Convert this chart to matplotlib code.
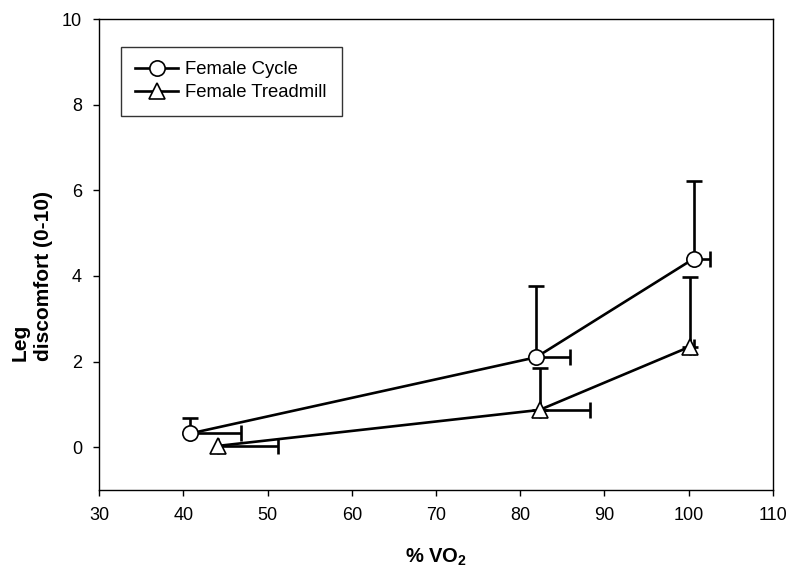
import matplotlib
matplotlib.use("Agg")
import matplotlib.pyplot as plt
from matplotlib.lines import Line2D

plt.rcParams['font.family'] = ['Liberation Sans', 'DejaVu Sans']
plt.rcParams['mathtext.fontset'] = 'custom'
plt.rcParams['mathtext.rm'] = 'Liberation Sans'
plt.rcParams['mathtext.bf'] = 'Liberation Sans:bold'

# Data
cycle_x = [40.8, 81.9, 100.6]
cycle_y = [0.32, 2.10, 4.40]
cycle_yerr_up = [0.37, 1.67, 1.82]
cycle_xerr_right = [6.0, 4.0, 2.0]

tread_x = [44.1, 82.3, 100.2]
tread_y = [0.03, 0.87, 2.35]
tread_yerr_up = [0.0, 0.97, 1.63]
tread_xerr_right = [7.1, 6.0, 0.4]

labels = ['Female Cycle', 'Female Treadmill']
xticks = [30, 40, 50, 60, 70, 80, 90, 100, 110]
yticks = [0, 2, 4, 6, 8, 10]

fig = plt.figure(figsize=(7.9, 5.73), dpi=100)
ax = fig.add_axes([99.3/790, 83/573, (772.7-99.3)/790, (490-19)/573])

lw = 1.9
cap = 6

def draw(x, y, yerr, xerr, marker, ms, label):
    for xi, yi, ye, xe in zip(x, y, yerr, xerr):
        if ye > 0:
            ax.errorbar([xi], [yi], yerr=[[0], [ye]], fmt='none', ecolor='black',
                        elinewidth=lw, capsize=cap, capthick=lw, zorder=2)
        if xe > 0:
            ax.errorbar([xi], [yi], xerr=[[0], [xe]], fmt='none', ecolor='black',
                        elinewidth=lw, capsize=cap, capthick=lw, zorder=2)
    ax.plot(x, y, color='black', lw=lw, marker=marker, ms=ms,
            mfc='white', mec='black', mew=1.2, zorder=3, label=label)

draw(cycle_x, cycle_y, cycle_yerr_up, cycle_xerr_right, 'o', 11, labels[0])
draw(tread_x, tread_y, tread_yerr_up, tread_xerr_right, '^', 12, labels[1])

ax.set_xlim(30, 110)
ax.set_ylim(-1, 10)
ax.set_xticks(xticks)
ax.set_yticks(yticks)
ax.tick_params(direction='out', length=4.5, width=1, labelsize=13, colors='black', pad=8)
for s in ax.spines.values():
    s.set_linewidth(1.0)

handles = [
    Line2D([], [], color='black', lw=lw, marker='o', ms=11, mfc='white', mec='black', mew=1.2),
    Line2D([], [], color='black', lw=lw, marker='^', ms=12, mfc='white', mec='black', mew=1.2),
]
leg = ax.legend(handles, labels, loc='upper left', bbox_to_anchor=((120.7-99.3)/673.4, (490-46.7)/471),
                fontsize=13.3, frameon=True, fancybox=False, edgecolor='black',
                handlelength=2.3, handletextpad=0.4, borderpad=0.8, labelspacing=0.3,
                borderaxespad=0)
leg.get_frame().set_linewidth(1.0)

fig.text(436/790, 1 - 557/573, r'% VO$_{\mathbf{2}}$', ha='center', va='center',
         fontsize=14.5, fontweight='bold')
fig.text(31.5/790, 1 - 276/573, 'Leg\ndiscomfort (0-10)', rotation=90, ha='center',
         va='center', multialignment='left', fontsize=15, fontweight='bold',
         linespacing=1.3)

fig.savefig('out.png', dpi=100)
